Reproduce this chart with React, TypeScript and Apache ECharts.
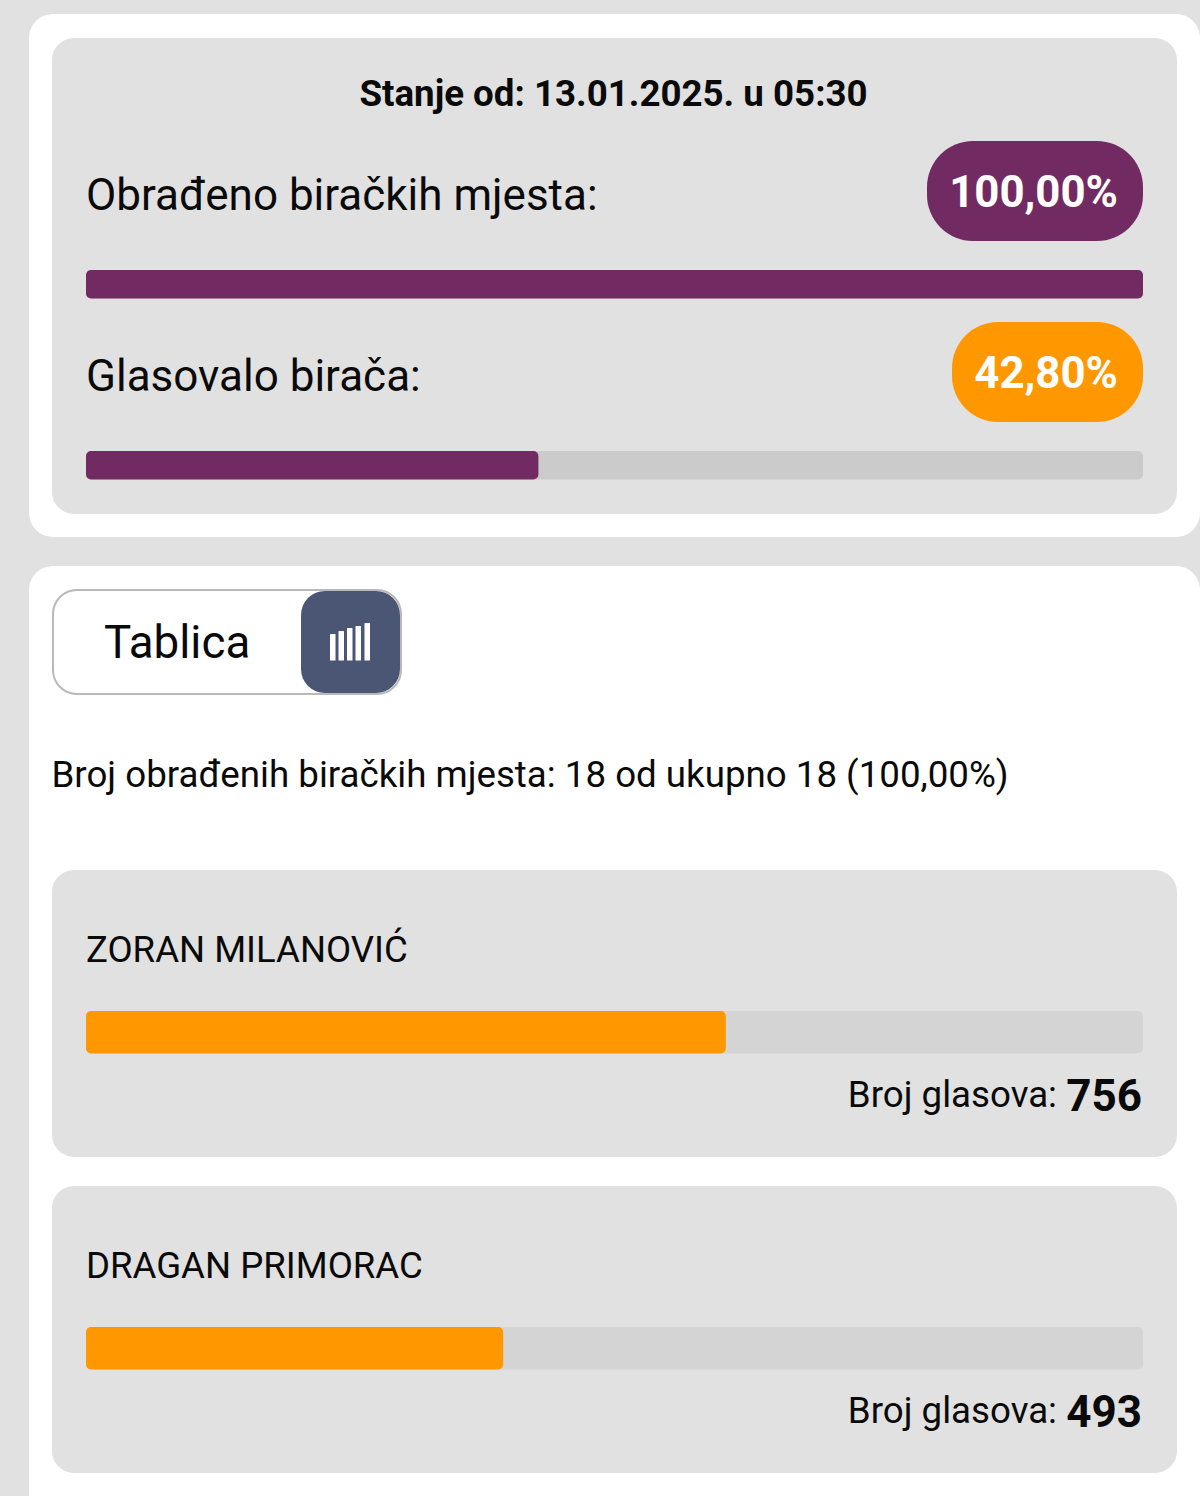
import React, { useEffect, useRef } from "react";
import * as echarts from "echarts";

const statusTitle = "Stanje od: 13.01.2025. u 05:30";
const progressLabels = ["Obrađeno biračkih mjesta:", "Glasovalo birača:"];
const progressValues = [100.0, 42.8];
const progressPills = ["100,00%", "42,80%"];
const toggleLabel = "Tablica";
const countedLine = "Broj obrađenih biračkih mjesta: 18 od ukupno 18 (100,00%)";
const candidates = ["ZORAN MILANOVIĆ", "DRAGAN PRIMORAC"];
const votes = [756, 493];
const votesLabel = "Broj glasova:";
const iconBarTops = [634, 631, 628, 626, 623];
const iconBarLefts = [330, 338.5, 347, 355.5, 364.5];

const FONT = "Roboto";
const PURPLE = "#722b62";
const ORANGE = "#ff9800";
const INK = "#0a0a0a";

const barLeft = 86;
const barRight = 57;
const totalVotes = votes[0] + votes[1];

function barBlock(
  index: number,
  top: number,
  height: number,
  name: string,
  value: number,
  max: number,
  color: string,
  track: string,
) {
  return {
    grid: { left: barLeft, right: barRight, top, height, containLabel: false },
    xAxis: { type: "value", gridIndex: index, min: 0, max, show: false },
    yAxis: { type: "category", gridIndex: index, data: [name], show: false },
    series: {
      type: "bar",
      name,
      xAxisIndex: index,
      yAxisIndex: index,
      data: [value],
      barWidth: height,
      showBackground: true,
      backgroundStyle: { color: track, borderRadius: 5 },
      itemStyle: { color, borderRadius: 5 },
      silent: true,
    },
  };
}

function text(x: number, y: number, t: string, fontSize: number, opts: any = {}) {
  const { fontWeight = 400, fill = INK, align = "left" } = opts;
  return {
    type: "text",
    x,
    y,
    z: 20,
    silent: true,
    style: { text: t, fontSize, fontWeight, fill, fontFamily: FONT, align, verticalAlign: "middle" },
  };
}

function box(x: number, y: number, w: number, h: number, r: number, fill: string, extra: any = {}) {
  return {
    type: "rect",
    z: extra.z ?? 1,
    silent: true,
    shape: { x, y, width: w, height: h, r },
    style: { fill, stroke: extra.stroke, lineWidth: extra.lineWidth },
  };
}

export default function App() {
  const ref = useRef<HTMLDivElement>(null);
  useEffect(() => {
    document.body.style.margin = "0";
    const chart = echarts.init(ref.current!, undefined, { renderer: "svg" });
    const blocks = [
      barBlock(0, 270, 28.5, progressLabels[0], progressValues[0], 100, PURPLE, "#cbcbcb"),
      barBlock(1, 451, 28.5, progressLabels[1], progressValues[1], 100, PURPLE, "#cbcbcb"),
      barBlock(2, 1011, 42.5, candidates[0], votes[0], totalVotes, ORANGE, "#d4d4d4"),
      barBlock(3, 1327, 42.5, candidates[1], votes[1], totalVotes, ORANGE, "#d4d4d4"),
    ];
    const icon = iconBarTops.map((top, i) => box(iconBarLefts[i], top, 5.5, 660.5 - top, 0.5, "#ffffff", { z: 6 }));
    chart.setOption({
      animation: false,
      backgroundColor: "#e1e1e1",
      grid: blocks.map((b) => b.grid),
      xAxis: blocks.map((b) => b.xAxis),
      yAxis: blocks.map((b) => b.yAxis),
      series: blocks.map((b) => b.series),
      graphic: [
        box(29, 14, 1171, 523, 24, "#ffffff"),
        box(29, 566, 1171, 960, 24, "#ffffff"),
        box(52, 38, 1125, 476, 22, "#e1e1e1", { z: 2 }),
        box(52, 870, 1125, 287, 22, "#e1e1e1", { z: 2 }),
        box(52, 1186, 1125, 287, 22, "#e1e1e1", { z: 2 }),
        box(927, 141, 216, 100, 46, PURPLE, { z: 3 }),
        box(952, 322, 191, 100, 46, ORANGE, { z: 3 }),
        box(53, 590, 348, 104, 24, "#ffffff", { z: 3, stroke: "#b9b9b9", lineWidth: 2 }),
        box(301, 591, 99, 102, 24, "#4a5674", { z: 5 }),
        ...icon,
        text(613.5, 93, statusTitle, 36.7, { fontWeight: 700, align: "center" }),
        text(86, 195, progressLabels[0], 44),
        text(86, 376, progressLabels[1], 44),
        text(1118, 192, progressPills[0], 43.8, { fontWeight: 700, fill: "#ffffff", align: "right" }),
        text(1118, 373, progressPills[1], 43.8, { fontWeight: 700, fill: "#ffffff", align: "right" }),
        text(104, 642, toggleLabel, 45.7),
        text(51.5, 774, countedLine, 36.7),
        text(86, 949, candidates[0], 36.6),
        text(86, 1265, candidates[1], 36.6),
        text(1057, 1094, votesLabel, 36.7, { align: "right" }),
        text(1142, 1096, String(votes[0]), 44, { fontWeight: 700, align: "right" }),
        text(1057, 1410, votesLabel, 36.7, { align: "right" }),
        text(1142, 1412, String(votes[1]), 44, { fontWeight: 700, align: "right" }),
      ],
    });
    return () => chart.dispose();
  }, []);
  return <div ref={ref} style={{ width: 1200, height: 1496 }} />;
}
